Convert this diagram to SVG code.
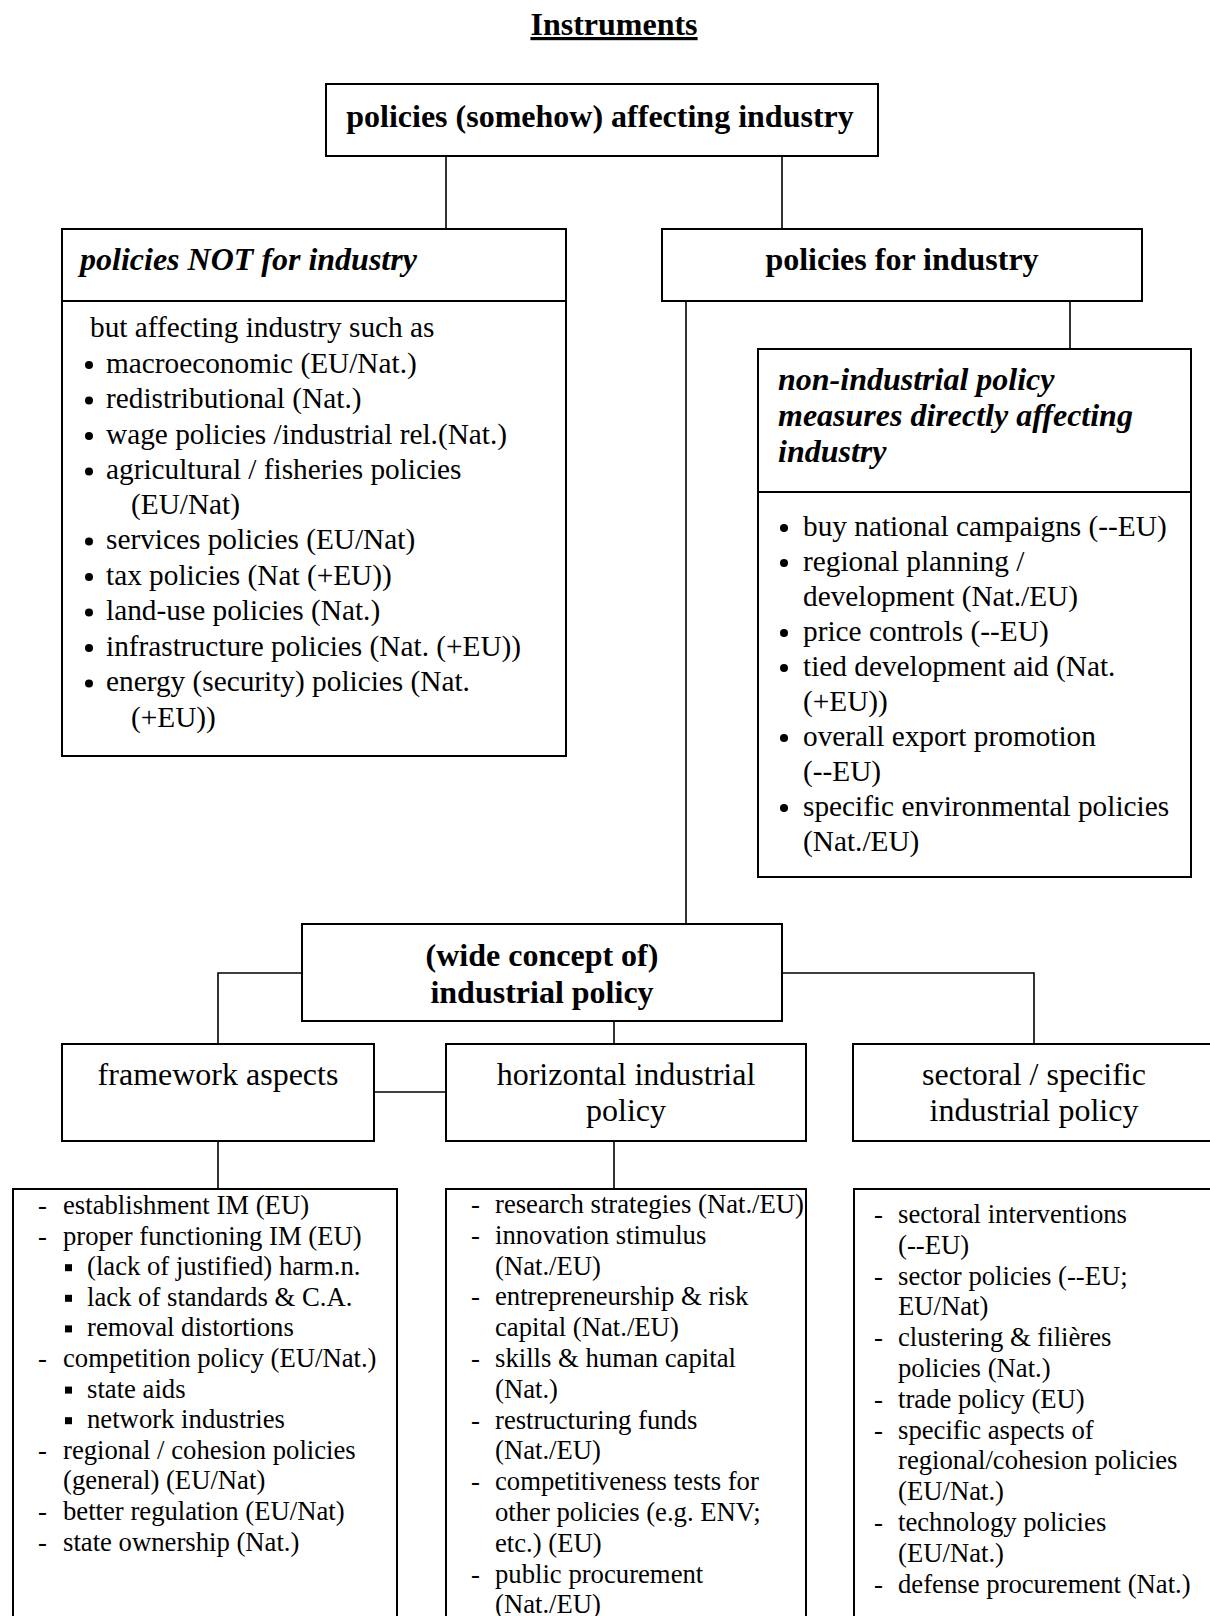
<svg xmlns="http://www.w3.org/2000/svg" width="1210" height="1616" viewBox="0 0 1210 1616">
<style>
text{font-family:"Liberation Serif","Times New Roman",serif;fill:#000}
.h{font-size:32px;font-weight:bold}
.hi{font-size:32px;font-weight:bold;font-style:italic}
.r32{font-size:32px}
.b{font-size:29.3px}
.s{font-size:26.7px}
.c{text-anchor:middle}
.box{fill:#fff;stroke:#000;stroke-width:2}
.con{fill:none;stroke:#000;stroke-width:1.6}
.dot{fill:#000}
</style>
<rect width="1210" height="1616" fill="#fff"/>
<text class="h c" x="614" y="35" text-decoration="underline">Instruments</text>

<g id="connectors">
<path class="con" d="M446 157V229"/>
<path class="con" d="M782 157V229"/>
<path class="con" d="M686 301V924"/>
<path class="con" d="M1070 301V349"/>
<path class="con" d="M302 973H218V1044"/>
<path class="con" d="M782 973H1034V1044"/>
<path class="con" d="M614 1021V1044"/>
<path class="con" d="M374 1092H446"/>
<path class="con" d="M218 1141V1189"/>
<path class="con" d="M614 1141V1189"/>
</g>

<g id="n-top">
<rect class="box" x="326" y="84" width="552" height="72"/>
<text class="h c" x="600" y="127">policies (somehow) affecting industry</text>
</g>

<g id="n-not">
<rect class="box" x="62" y="229" width="504" height="72"/>
<text class="hi" x="80" y="270">policies NOT for industry</text>
<rect class="box" x="62" y="301" width="504" height="455"/>
<g class="b">
<text x="90" y="337">but affecting industry such as</text>
<text x="106" y="372.5">macroeconomic (EU/Nat.)</text>
<text x="106" y="408">redistributional (Nat.)</text>
<text x="106" y="443.5">wage policies /industrial rel.(Nat.)</text>
<text x="106" y="479">agricultural / fisheries policies</text>
<text x="131" y="513.5">(EU/Nat)</text>
<text x="106" y="549">services policies (EU/Nat)</text>
<text x="106" y="584.5">tax policies (Nat (+EU))</text>
<text x="106" y="620">land-use policies (Nat.)</text>
<text x="106" y="655.5">infrastructure policies (Nat. (+EU))</text>
<text x="106" y="691">energy (security) policies (Nat.</text>
<text x="131" y="726.5">(+EU))</text>
</g>
<circle class="dot" cx="89" cy="365" r="4"/>
<circle class="dot" cx="89" cy="400.5" r="4"/>
<circle class="dot" cx="89" cy="436" r="4"/>
<circle class="dot" cx="89" cy="471.5" r="4"/>
<circle class="dot" cx="89" cy="541.5" r="4"/>
<circle class="dot" cx="89" cy="577" r="4"/>
<circle class="dot" cx="89" cy="612.5" r="4"/>
<circle class="dot" cx="89" cy="648" r="4"/>
<circle class="dot" cx="89" cy="683.5" r="4"/>
</g>

<g id="n-for">
<rect class="box" x="662" y="229" width="480" height="72"/>
<text class="h c" x="902" y="270">policies for industry</text>
</g>

<g id="n-nonind">
<rect class="box" x="758" y="349" width="433" height="528"/>
<path class="con" d="M758 492H1191" style="stroke-width:2"/>
<text class="hi" x="778" y="390">non-industrial policy</text>
<text class="hi" x="778" y="426">measures directly affecting</text>
<text class="hi" x="778" y="462">industry</text>
<g class="b">
<text x="803" y="536">buy national campaigns (--EU)</text>
<text x="803" y="571">regional planning /</text>
<text x="803" y="606">development (Nat./EU)</text>
<text x="803" y="641">price controls (--EU)</text>
<text x="803" y="676">tied development aid (Nat.</text>
<text x="803" y="711">(+EU))</text>
<text x="803" y="746">overall export promotion</text>
<text x="803" y="781">(--EU)</text>
<text x="803" y="816">specific environmental policies</text>
<text x="803" y="851">(Nat./EU)</text>
</g>
<circle class="dot" cx="784" cy="528" r="4"/>
<circle class="dot" cx="784" cy="563" r="4"/>
<circle class="dot" cx="784" cy="633" r="4"/>
<circle class="dot" cx="784" cy="668" r="4"/>
<circle class="dot" cx="784" cy="738" r="4"/>
<circle class="dot" cx="784" cy="808" r="4"/>
</g>

<g id="n-wide">
<rect class="box" x="302" y="924" width="480" height="97"/>
<text class="h c" x="542" y="966">(wide concept of)</text>
<text class="h c" x="542" y="1003">industrial policy</text>
</g>

<g id="n-framework">
<rect class="box" x="62" y="1044" width="312" height="97"/>
<text class="r32 c" x="218" y="1085">framework aspects</text>
</g>

<g id="n-horizontal">
<rect class="box" x="446" y="1044" width="360" height="97"/>
<text class="r32 c" x="626" y="1085">horizontal industrial</text>
<text class="r32 c" x="626" y="1121">policy</text>
</g>

<g id="n-sectoral">
<path class="box" d="M1212 1044H853V1141H1212"/>
<text class="r32 c" x="1034" y="1085">sectoral / specific</text>
<text class="r32 c" x="1034" y="1121">industrial policy</text>
</g>

<g id="n-framework-list">
<path class="box" d="M13 1620V1189H397V1620"/>
<g class="s">
<text x="38" y="1214">-</text><text x="63" y="1214">establishment IM (EU)</text>
<text x="38" y="1244.6">-</text><text x="63" y="1244.6">proper functioning IM (EU)</text>
<text x="87" y="1275.2">(lack of justified) harm.n.</text>
<text x="87" y="1305.8">lack of standards &amp; C.A.</text>
<text x="87" y="1336.4">removal distortions</text>
<text x="38" y="1367">-</text><text x="63" y="1367">competition policy (EU/Nat.)</text>
<text x="87" y="1397.6">state aids</text>
<text x="87" y="1428.2">network industries</text>
<text x="38" y="1458.8">-</text><text x="63" y="1458.8">regional / cohesion policies</text>
<text x="63" y="1489.4">(general) (EU/Nat)</text>
<text x="38" y="1520">-</text><text x="63" y="1520">better regulation (EU/Nat)</text>
<text x="38" y="1550.6">-</text><text x="63" y="1550.6">state ownership (Nat.)</text>
</g>
<rect class="dot" x="65" y="1264.2" width="7" height="7"/>
<rect class="dot" x="65" y="1294.8" width="7" height="7"/>
<rect class="dot" x="65" y="1325.4" width="7" height="7"/>
<rect class="dot" x="65" y="1386.6" width="7" height="7"/>
<rect class="dot" x="65" y="1417.2" width="7" height="7"/>
</g>

<g id="n-horizontal-list">
<path class="box" d="M446 1620V1189H806V1620"/>
<g class="s">
<text x="471" y="1213">-</text><text x="495" y="1213">research strategies (Nat./EU)</text>
<text x="471" y="1243.8">-</text><text x="495" y="1243.8">innovation stimulus</text>
<text x="495" y="1274.6">(Nat./EU)</text>
<text x="471" y="1305.4">-</text><text x="495" y="1305.4">entrepreneurship &amp; risk</text>
<text x="495" y="1336.2">capital (Nat./EU)</text>
<text x="471" y="1367">-</text><text x="495" y="1367">skills &amp; human capital</text>
<text x="495" y="1397.8">(Nat.)</text>
<text x="471" y="1428.6">-</text><text x="495" y="1428.6">restructuring funds</text>
<text x="495" y="1459.4">(Nat./EU)</text>
<text x="471" y="1490.2">-</text><text x="495" y="1490.2">competitiveness tests for</text>
<text x="495" y="1521">other policies (e.g. ENV;</text>
<text x="495" y="1551.8">etc.) (EU)</text>
<text x="471" y="1582.6">-</text><text x="495" y="1582.6">public procurement</text>
<text x="495" y="1613.4">(Nat./EU)</text>
</g>
</g>

<g id="n-sectoral-list">
<path class="box" d="M854 1620V1189H1212"/>
<g class="s">
<text x="874" y="1223">-</text><text x="898" y="1223">sectoral interventions</text>
<text x="898" y="1253.8">(--EU)</text>
<text x="874" y="1284.6">-</text><text x="898" y="1284.6">sector policies (--EU;</text>
<text x="898" y="1315.4">EU/Nat)</text>
<text x="874" y="1346.2">-</text><text x="898" y="1346.2">clustering &amp; filières</text>
<text x="898" y="1377">policies (Nat.)</text>
<text x="874" y="1407.8">-</text><text x="898" y="1407.8">trade policy (EU)</text>
<text x="874" y="1438.6">-</text><text x="898" y="1438.6">specific aspects of</text>
<text x="898" y="1469.4">regional/cohesion policies</text>
<text x="898" y="1500.2">(EU/Nat.)</text>
<text x="874" y="1531">-</text><text x="898" y="1531">technology policies</text>
<text x="898" y="1561.8">(EU/Nat.)</text>
<text x="874" y="1592.6">-</text><text x="898" y="1592.6">defense procurement (Nat.)</text>
</g>
</g>
</svg>
